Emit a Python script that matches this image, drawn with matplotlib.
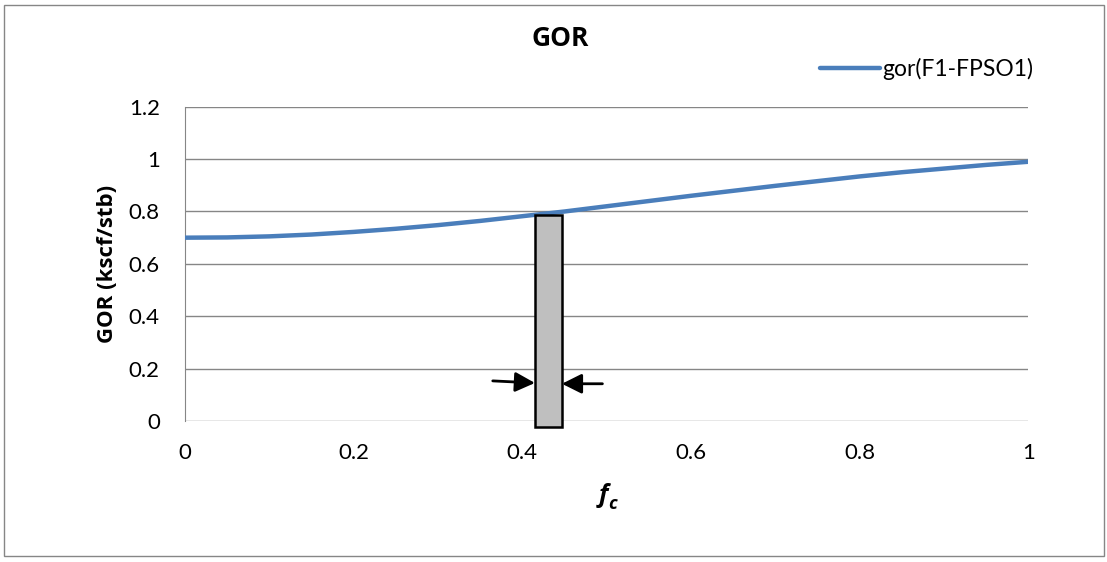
import matplotlib.pyplot as plt
from matplotlib.patches import Rectangle

plt.rcParams['font.family'] = ['Lato', 'DejaVu Sans']
bold_font = ['Open Sans', 'DejaVu Sans']

fc = [0.0, 0.05, 0.1, 0.15, 0.2, 0.25, 0.3, 0.35, 0.4, 0.45, 0.5,
      0.55, 0.6, 0.65, 0.7, 0.75, 0.8, 0.85, 0.9, 0.95, 1.0]
gor = [0.700, 0.701, 0.705, 0.712, 0.722, 0.734, 0.748, 0.764, 0.782, 0.800, 0.820,
       0.840, 0.860, 0.879, 0.898, 0.916, 0.934, 0.950, 0.964, 0.978, 0.990]

# grey block marking the selected fc range
block_x = [0.415, 0.447]
block_y = [-0.023, 0.787]
arrow_y = 0.145

fig = plt.figure(figsize=(11.07, 5.62), dpi=100)
fig.patches.append(Rectangle((0.004, 0.011), 0.993, 0.98, transform=fig.transFigure,
                             fill=False, edgecolor='#868686', lw=1))
ax = fig.add_axes([0.167, 0.251, 0.762, 0.559])

ax.plot(fc, gor, color='#4a7ebb', lw=3.2, solid_capstyle='round', label='gor(F1-FPSO1)', zorder=3)
ax.add_patch(Rectangle((block_x[0], block_y[0]), block_x[1] - block_x[0], block_y[1] - block_y[0],
                       facecolor='#bfbfbf', edgecolor='black', lw=1.8, zorder=4, clip_on=False))
ax.annotate('', xy=(block_x[0], arrow_y), xytext=(0.365, arrow_y + 0.008),
            arrowprops=dict(arrowstyle='-|>', color='black', lw=2, mutation_scale=30,
                            shrinkA=0, shrinkB=0))
ax.annotate('', xy=(block_x[1], arrow_y - 0.003), xytext=(0.495, arrow_y - 0.003),
            arrowprops=dict(arrowstyle='-|>', color='black', lw=2, mutation_scale=30,
                            shrinkA=0, shrinkB=0))

ax.set_xlim(0, 1)
ax.set_ylim(0, 1.2)
ax.set_xticks([0, 0.2, 0.4, 0.6, 0.8, 1])
ax.set_xticklabels(['0', '0.2', '0.4', '0.6', '0.8', '1'])
ax.set_yticks([0, 0.2, 0.4, 0.6, 0.8, 1, 1.2])
ax.set_yticklabels(['0', '0.2', '0.4', '0.6', '0.8', '1', '1.2'])
ax.tick_params(labelsize=16, length=0)
ax.tick_params(axis='y', pad=18)
ax.tick_params(axis='x', pad=16)
ax.yaxis.grid(True, color='#868686', lw=1)
ax.set_axisbelow(True)
for s in ['top', 'right', 'bottom']:
    ax.spines[s].set_visible(False)
ax.spines['left'].set_color('#868686')

fig.text(0.506, 0.932, 'GOR', ha='center', va='center', fontsize=19, fontweight='bold', family=bold_font)
fig.text(0.545, 0.118, 'f', ha='center', va='center',
         fontsize=18, fontweight='bold', fontstyle='italic', family=bold_font)
fig.text(0.549, 0.104, 'c', ha='left', va='center', fontsize=13, fontweight='bold',
         fontstyle='italic', family=bold_font)
fig.text(0.097, 0.53, 'GOR (kscf/stb)', rotation=90, ha='center', va='center',
         fontsize=16, fontweight='bold', family=bold_font)

ax.legend(loc='upper right', bbox_to_anchor=(1.03, 1.22), frameon=False, fontsize=16.5,
          handlelength=2.6, handletextpad=0.1)

plt.savefig('out.png')
